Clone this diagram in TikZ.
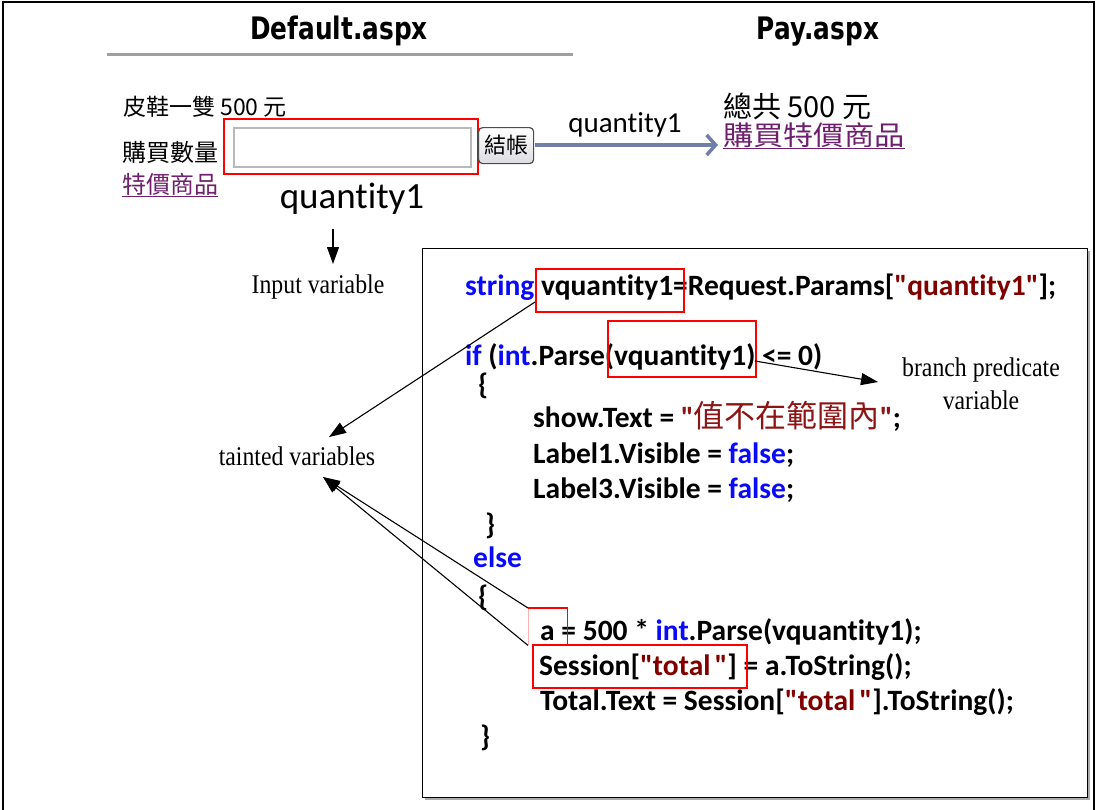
\documentclass[tikz,border=0pt]{standalone}
\usepackage{fontspec}
\usetikzlibrary{arrows.meta}
\newfontfamily\codefont{Carlito}[Ligatures={NoCommon}]
\newfontfamily\cjk{Noto Sans CJK TC}
\newfontfamily\tnr{Liberation Serif}
\newfontfamily\headfont{DejaVu Sans}
\definecolor{kwc}{RGB}{10,10,250}
\definecolor{strc}{RGB}{128,0,0}
\definecolor{cnred}{RGB}{140,20,20}
\definecolor{linkc}{RGB}{110,30,110}
\definecolor{flowc}{RGB}{112,126,168}
\newcommand{\kwd}[1]{\textcolor{kwc}{#1}}
\newcommand{\strg}[1]{\textcolor{strc}{#1}}
\newcommand{\cond}[1]{\scalebox{0.88}[1]{#1}}
\tikzset{
  code/.style={anchor=base west, inner sep=0pt, font=\codefont\bfseries\fontsize{29.5}{34}\selectfont},
  lab/.style={inner sep=0pt, anchor=base, font=\tnr\fontsize{27}{30}\selectfont},
  cjktext/.style={inner sep=0pt, anchor=base west},
  redbox/.style={draw=red, line width=1.6pt, inner sep=0pt, anchor=north west},
  tip/.style={-{Triangle[length=17pt,width=12pt]}, line width=1.1pt},
  head/.style={inner sep=0pt, anchor=base, font=\headfont\bfseries\fontsize{31}{34}\selectfont}
}
\begin{document}
\begin{tikzpicture}[x=1pt,y=-1pt]
\useasboundingbox (0,0) rectangle (1097,809);
% outer frame
\draw[line width=1.6pt] (3,812) -- (3,2) -- (1094,2) -- (1094,812);

% headers
\node[head] (hd) at (339,39) {\scalebox{0.8}[1]{Default.aspx}};
\node[head] (hp) at (818,39) {\scalebox{0.8}[1]{Pay.aspx}};
\draw[line width=3pt, gray!75] (107,54) -- (573,54);

% Default page
\node[cjktext, font=\cjk\fontsize{23}{26}\selectfont] (shoe) at (123,115) {皮鞋一雙 500 元};
\node[cjktext, font=\cjk\fontsize{24}{27}\selectfont] (buyq) at (122,161) {購買數量};
\node[cjktext, font=\cjk\fontsize{24}{27}\selectfont, text=linkc] (spec) at (122,193) {\underline{特價商品}};
\node[draw=gray!55, line width=1.5pt, fill=white, minimum width=237pt, minimum height=39pt, inner sep=0pt, anchor=north west] (field) at (233,127) {};
\node[redbox, minimum width=254pt, minimum height=55pt] (fbox) at (223,118) {};
\node[draw=black!70, line width=1.2pt, rounded corners=4pt, top color=white, bottom color=blue!8!gray!25, minimum width=55pt, minimum height=36pt, inner sep=0pt, anchor=north west, font=\cjk\fontsize{22}{24}\selectfont] (btn) at (478,127) {結帳};
\node[inner sep=0pt, anchor=base, font=\codefont\fontsize{37}{40}\selectfont] (q1big) at (352,208) {quantity1};

% flow arrow
\coordinate (fa) at (535,145);
\coordinate (fb) at (718,145);
\draw[flowc, line width=3.5pt, -{Straight Barb[length=9pt,width=20pt,line width=3.5pt]}] (fa) -- (fb);
\node[inner sep=0pt, anchor=base, font=\codefont\fontsize{29}{32}\selectfont] (q1lab) at (625,132) {quantity1};

% Pay page
\node[cjktext, font=\cjk\fontsize{29}{32}\selectfont] (total) at (723,117) {總共 500 元};
\node[cjktext, font=\cjk\fontsize{27}{30}\selectfont, text=linkc] (buysp) at (723,145) {\scalebox{1.12}[1]{\underline{購買特價商品}}};

% input variable
\node[lab] (inp) at (318,293) {\cond{Input variable}};
\coordinate (ia) at (333,229);
\coordinate (ib) at (333,264);
\draw[tip] (ia) -- (ib);

% code box
\fill[gray!65] (425,251) rectangle (1090,800);
\node[draw, line width=1.2pt, fill=white, minimum width=665pt, minimum height=549pt, inner sep=0pt, anchor=north west] (codebox) at (422,248) {};

\node[code] (l1) at (465,295) {\kwd{string} vquantity1=Request.Params[\strg{"quantity1"}];};
\node[code] (l2) at (465,365) {\kwd{if} (\kwd{int}.Parse(vquantity1) <= 0)};
\node[code] (l3) at (478,394) {\{};
\node[code] (l4) at (533,427) {show.Text = \textcolor{cnred}{"{\cjk\mdseries\fontsize{31}{34}\selectfont 值不在範圍內}"};};
\node[code] (l5) at (533,463) {Label1.Visible = \kwd{false};};
\node[code] (l6) at (533,498) {Label3.Visible = \kwd{false};};
\node[code] (l7) at (485,534) {\}};
\node[code] (l8) at (473,567) {\kwd{else}};
\node[code] (l9) at (478,606) {\{};
\node[code] (l10) at (540,640) {a = 500 * \kwd{int}.Parse(vquantity1);};
\node[code] (l11) at (539,675) {Session[\strg{"total\hspace{4pt}"}] = a.ToString();};
\node[code] (l12) at (540,710) {Total.Text = Session[\strg{"total\hspace{4pt}"}].ToString();};
\node[code] (l13) at (480,746) {\}};

% red boxes
\node[redbox, minimum width=148pt, minimum height=43pt] (b1) at (535,268) {};
\node[redbox, minimum width=148pt, minimum height=56pt] (b2) at (607,320) {};
\node[inner sep=0pt, minimum width=39pt, minimum height=37pt, anchor=north west] (b3) at (528,608) {};
\draw[red!30, line width=1pt] (b3.north west) -- (b3.south west);
\draw[red, line width=1.6pt] (b3.north west) -- (b3.north east) -- (b3.south east);
\node[redbox, minimum width=214pt, minimum height=43pt] (b4) at (532,644) {};

% labels
\node[lab] (taint) at (297,465) {\cond{tainted variables}};
\node[lab, align=center] (branch) at (981,409) {\cond{branch predicate}\\[3pt]\cond{variable}};

% arrows
\coordinate (t1s) at (535,302);
\coordinate (t1e) at (329,437);
\draw[tip] (t1s) -- (t1e);
\coordinate (t23e) at (323,477);
\draw[tip] (b3.north west) -- (t23e);
\draw[tip] (b3.south west) -- (t23e);
\coordinate (bs) at (755,361);
\coordinate (be) at (878,382);
\draw[tip] (bs) -- (be);
\end{tikzpicture}
\end{document}
